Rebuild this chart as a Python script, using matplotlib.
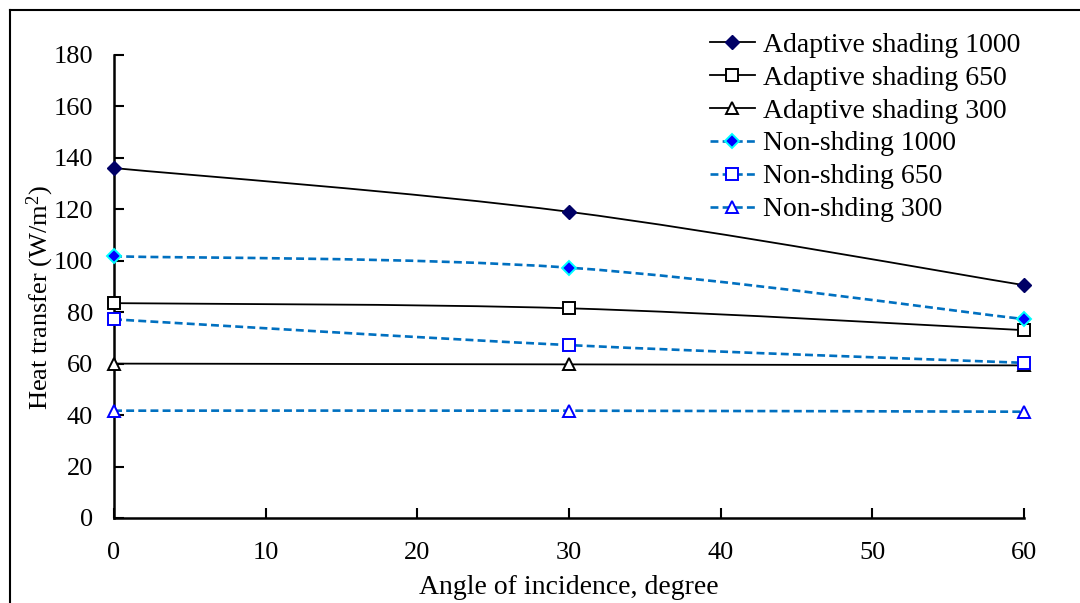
import matplotlib
matplotlib.use("Agg")
import matplotlib.pyplot as plt
from matplotlib.path import Path
from matplotlib.patches import PathPatch
from matplotlib.lines import Line2D

plt.rcParams['font.family'] = ['Liberation Serif', 'DejaVu Serif']
plt.rcParams['mathtext.fontset'] = 'custom'
plt.rcParams['mathtext.rm'] = 'Liberation Serif'
plt.rcParams['mathtext.it'] = 'Liberation Serif:italic'

angles = [0, 30, 60]
adaptive_1000 = [136, 119, 90.5]
adaptive_650 = [83.5, 81.5, 73]
adaptive_300 = [60, 59.7, 59.3]
non_1000 = [101.7, 97.3, 77.3]
non_650 = [77.2, 67.2, 60.3]
non_300 = [41.7, 41.7, 41.3]

labels = ['Adaptive shading 1000', 'Adaptive shading 650', 'Adaptive shading 300',
          'Non-shding 1000', 'Non-shding 650', 'Non-shding 300']

blue_line = '#0070C0'
dash = (0, (3, 1.6))
styles = [
    dict(color='black', ls='-', lw=1.3, marker='D', mfc='#000066', mec='#000066', ms=7),
    dict(color='black', ls='-', lw=1.3, marker='s', mfc='white', mec='black', ms=8, mew=1.4),
    dict(color='black', ls='-', lw=1.3, marker='^', mfc='white', mec='black', ms=8, mew=1.4),
    dict(color=blue_line, ls=dash, lw=1.9, marker='D', mfc='#0000FF', mec='#00FFFF', ms=7, mew=1.4),
    dict(color=blue_line, ls=dash, lw=1.9, marker='s', mfc='white', mec='#0000FF', ms=8, mew=1.4),
    dict(color=blue_line, ls=dash, lw=1.9, marker='^', mfc='white', mec='#0000FF', ms=8, mew=1.4),
]


def smooth_path(xs, ys):
    # Catmull-Rom style bezier like Excel smoothed lines
    verts = [(xs[0], ys[0])]
    codes = [Path.MOVETO]
    n = len(xs)
    for i in range(n - 1):
        x0, y0 = (xs[i - 1], ys[i - 1]) if i > 0 else (xs[i], ys[i])
        x1, y1 = xs[i], ys[i]
        x2, y2 = xs[i + 1], ys[i + 1]
        x3, y3 = (xs[i + 2], ys[i + 2]) if i + 2 < n else (x2, y2)
        c1 = (x1 + (x2 - x0) / 6, y1 + (y2 - y0) / 6)
        c2 = (x2 - (x3 - x1) / 6, y2 - (y3 - y1) / 6)
        verts += [c1, c2, (x2, y2)]
        codes += [Path.CURVE4] * 3
    return Path(verts, codes)


fig = plt.figure(figsize=(10.8, 6.03), dpi=100)
ax = fig.add_axes([0.1056, 0.141, 0.8424, 0.768])

series = [adaptive_1000, adaptive_650, adaptive_300, non_1000, non_650, non_300]
handles = []
for vals, st, lab in zip(series, styles, labels):
    patch = PathPatch(smooth_path(angles, vals), facecolor='none', edgecolor=st['color'],
                      lw=st['lw'], ls=st['ls'], zorder=2, clip_on=False)
    ax.add_patch(patch)
    ax.plot(angles, vals, ls='none', marker=st['marker'], mfc=st['mfc'], mec=st['mec'],
            ms=st['ms'], mew=st.get('mew', 1.0), zorder=3, clip_on=False)
    handles.append(Line2D([], [], color=st['color'], ls=st['ls'], lw=st['lw'], marker=st['marker'],
                          mfc=st['mfc'], mec=st['mec'], ms=st['ms'], mew=st.get('mew', 1.0)))

ax.set_xlim(0, 60)
ax.set_ylim(0, 180)
ax.set_xticks(range(0, 61, 10))
ax.set_yticks(range(0, 181, 20))
ax.tick_params(direction='in', length=7, width=1.5, labelsize=19)
ax.tick_params(axis='y', pad=15)
ax.tick_params(axis='x', pad=17)
for s in ['top', 'right']:
    ax.spines[s].set_visible(False)
for s in ['left', 'bottom']:
    ax.spines[s].set_linewidth(1.8)

ax.set_xlabel('Angle of incidence, degree', fontsize=20, labelpad=8)
ax.set_ylabel('Heat transfer (W/m$^2$)', fontsize=19)
ax.yaxis.set_label_coords(-0.064, 0.475)

ax.legend(handles=handles, labels=labels, loc='upper left', bbox_to_anchor=(0.643, 1.073),
          frameon=False, fontsize=20, handlelength=1.6, handletextpad=0.3, labelspacing=0.27,
          borderaxespad=0)

# outer frame of the original picture
fig.add_artist(Line2D([0.009, 0.009], [0, 0.984], transform=fig.transFigure, color='black', lw=1.5))
fig.add_artist(Line2D([0.009, 1.0], [0.984, 0.984], transform=fig.transFigure, color='black', lw=1.5))

fig.savefig('out.png', dpi=100)
